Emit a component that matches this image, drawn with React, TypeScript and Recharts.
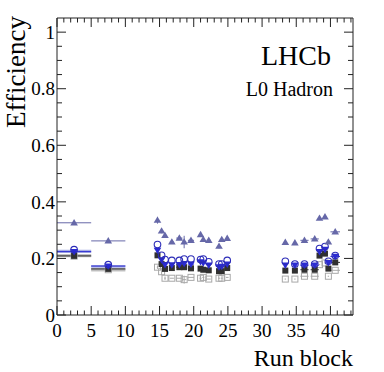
import { ComposedChart, Scatter, XAxis, YAxis, ErrorBar, ReferenceArea, Customized } from 'recharts'

// run blocks: first two are wide bins, the rest are single blocks
const runX = [2.5, 7.5, 14.7, 15.3, 15.8, 16.8, 17.9, 18.6, 19.6, 21.0, 21.4, 22.2, 23.7, 24.1, 24.9, 33.4, 34.8, 36.2, 37.7, 38.4, 39.2, 39.7, 40.7]
const runHalfWidth = [2.5, 2.5, 0.1, 0.1, 0.1, 0.3, 0.45, 0.3, 0.45, 0.15, 0.15, 0.3, 0.15, 0.15, 0.2, 0.1, 0.1, 0.6, 0.6, 0.1, 0.1, 0.1, 0.7]

const triUp = [0.326, 0.262, 0.335, 0.297, 0.281, 0.258, 0.272, 0.258, 0.264, 0.284, 0.267, 0.264, 0.243, 0.267, 0.271, 0.257, 0.255, 0.264, 0.269, 0.342, 0.347, 0.258, 0.294]
const triUpErr = [0, 0, 0.012, 0.008, 0.006, 0, 0, 0.022, 0, 0.008, 0.006, 0, 0.008, 0, 0, 0, 0, 0, 0, 0, 0, 0, 0]
const openCircle = [0.231, 0.178, 0.249, 0.211, 0.196, 0.193, 0.193, 0.198, 0.198, 0.196, 0.198, 0.188, 0.18, 0.18, 0.193, 0.19, 0.18, 0.18, 0.18, 0.235, 0.242, 0.19, 0.21]
const triDown = [0.224, 0.173, 0.229, 0.195, 0.178, 0.177, 0.178, 0.182, 0.18, 0.188, 0.184, 0.176, 0.17, 0.172, 0.18, 0.176, 0.176, 0.176, 0.176, 0.224, 0.232, 0.185, 0.207]
const fullSquare = [0.209, 0.163, 0.211, 0.18, 0.163, 0.166, 0.169, 0.169, 0.165, 0.164, 0.16, 0.158, 0.155, 0.155, 0.166, 0.157, 0.157, 0.16, 0.16, 0.21, 0.217, 0.164, 0.186]
const openSquare = [0.208, 0.16, 0.169, 0.153, 0.13, 0.13, 0.13, 0.125, 0.133, 0.13, 0.133, 0.127, 0.13, 0.13, 0.133, 0.127, 0.127, 0.137, 0.137, 0.178, 0.184, 0.137, 0.158]
const openSquareErr = [0, 0, 0.006, 0.012, 0.006, 0, 0, 0.014, 0, 0.008, 0, 0, 0, 0, 0, 0, 0, 0, 0, 0, 0, 0, 0]

// uncertainty bands on the two wide bins
const bandLo = [0, 5]
const bandHi = [5, 10]
const blueBand = [[0.219, 0.231], [0.167, 0.177]]
const grayBand = [[0.204, 0.216], [0.154, 0.166]]

const xTicks = Array.from({ length: 44 }, (_, i) => i)
const yTicks = [0, 0.05, 0.1, 0.15, 0.2, 0.25, 0.3, 0.35, 0.4, 0.45, 0.5, 0.55, 0.6, 0.65, 0.7, 0.75, 0.8, 0.85, 0.9, 0.95, 1]

const FONT = '"Liberation Serif", "DejaVu Serif", serif'
const AXIS = '#222'

const build = (ys: number[], eys?: number[]) =>
  runX.map((x, i) => ({ x, y: ys[i], ex: runHalfWidth[i], ey: eys ? eys[i] : 0 }))

const isMajorY = (v: number) => Math.abs(v * 5 - Math.round(v * 5)) < 1e-6
const fmtY = (v: number) => (v === 0 ? '0' : v === 1 ? '1' : v.toFixed(1))

const LeftTick = ({ x, y, payload }: any) => {
  const major = isMajorY(payload.value)
  return (
    <g>
      <line x1={x} x2={x + (major ? 9 : 5)} y1={y} y2={y} stroke={AXIS} />
      {major && (
        <text x={x - 2} y={y} dy="0.35em" textAnchor="end" fill="#000" style={{ fontFamily: FONT, fontSize: 19 }}>
          {fmtY(payload.value)}
        </text>
      )}
    </g>
  )
}

const RightTick = ({ x, y, payload }: any) => {
  const major = isMajorY(payload.value)
  return <line x1={x} x2={x - (major ? 9 : 5)} y1={y} y2={y} stroke={AXIS} />
}

const BottomTick = ({ x, y, payload }: any) => {
  const major = payload.value % 5 === 0
  return (
    <g>
      <line x1={x} x2={x} y1={y} y2={y - (major ? 9 : 4.5)} stroke={AXIS} />
      {major && (
        <text x={x} y={y + 21.5} textAnchor="middle" fill="#000" style={{ fontFamily: FONT, fontSize: 19 }}>
          {payload.value}
        </text>
      )}
    </g>
  )
}

const TopTick = ({ x, y, payload }: any) => {
  const major = payload.value % 5 === 0
  return <line x1={x} x2={x} y1={y} y2={y + (major ? 9 : 4.5)} stroke={AXIS} />
}

const triUpShape = (color: string) => (p: any) => (
  <polygon points={`${p.cx},${p.cy - 3.8} ${p.cx - 3.8},${p.cy + 2.6} ${p.cx + 3.8},${p.cy + 2.6}`} fill={color} />
)
const triDownShape = (color: string) => (p: any) => (
  <polygon points={`${p.cx},${p.cy + 3.8} ${p.cx - 3.8},${p.cy - 2.6} ${p.cx + 3.8},${p.cy - 2.6}`} fill={color} />
)
const circleShape = (color: string) => (p: any) => (
  <circle cx={p.cx} cy={p.cy} r={3.3} fill="none" stroke={color} strokeWidth={1.1} />
)
const squareShape = (color: string, filled: boolean) => (p: any) => (
  <rect
    x={p.cx - 3}
    y={p.cy - 3}
    width={6}
    height={6}
    fill={filled ? color : 'none'}
    stroke={color}
    strokeWidth={filled ? 0 : 1}
  />
)

const Texts = () => (
  <g fill="#000" style={{ fontFamily: FONT }}>
    <text x={331} y={65} textAnchor="end" fontSize={28}>LHCb</text>
    <text x={333} y={96} textAnchor="end" fontSize={20}>L0 Hadron</text>
    <text x={353} y={366} textAnchor="end" fontSize={24}>Run block</text>
    <text transform="translate(25,16) rotate(-90)" textAnchor="end" fontSize={27}>Efficiency</text>
  </g>
)

const C_TRI = '#6668a8'
const C_BLUE = '#2a2ad2'
const C_CIRC = '#2c2cb8'
const C_BLACK = '#303030'
const C_GRAY = '#a8a8a8'

export default function App() {
  return (
    <div style={{ position: 'absolute', left: 0, top: 0, width: 384, height: 372, background: '#fff' }}>
      <ComposedChart width={384} height={372} margin={{ top: 0, right: 0, bottom: 0, left: 0 }}>
        <XAxis
          xAxisId="b"
          type="number"
          dataKey="x"
          domain={[0, 43.3]}
          ticks={xTicks}
          interval={0}
          allowDataOverflow
          height={57}
          tickSize={0}
          tickMargin={0}
          tickLine={false}
          axisLine={{ stroke: AXIS }}
          tick={<BottomTick />}
        />
        <XAxis
          xAxisId="t"
          orientation="top"
          type="number"
          dataKey="x"
          domain={[0, 43.3]}
          ticks={xTicks}
          interval={0}
          allowDataOverflow
          height={18}
          tickSize={0}
          tickMargin={0}
          tickLine={false}
          axisLine={{ stroke: AXIS }}
          tick={<TopTick />}
        />
        <YAxis
          yAxisId="l"
          type="number"
          dataKey="y"
          domain={[0, 1.05]}
          ticks={yTicks}
          interval={0}
          allowDataOverflow
          width={57}
          tickSize={0}
          tickMargin={0}
          tickLine={false}
          axisLine={{ stroke: AXIS }}
          tick={<LeftTick />}
        />
        <YAxis
          yAxisId="r"
          orientation="right"
          type="number"
          dataKey="y"
          domain={[0, 1.05]}
          ticks={yTicks}
          interval={0}
          allowDataOverflow
          width={31}
          tickSize={0}
          tickMargin={0}
          tickLine={false}
          axisLine={{ stroke: AXIS }}
          tick={<RightTick />}
        />

        {bandLo.map((lo, i) => (
          <ReferenceArea
            key={`bb${i}`}
            xAxisId="b"
            yAxisId="l"
            x1={lo}
            x2={bandHi[i]}
            y1={blueBand[i][0]}
            y2={blueBand[i][1]}
            fill="#a9aee4"
            fillOpacity={1}
            stroke="none"
          />
        ))}
        {bandLo.map((lo, i) => (
          <ReferenceArea
            key={`gb${i}`}
            xAxisId="b"
            yAxisId="l"
            x1={lo}
            x2={bandHi[i]}
            y1={grayBand[i][0]}
            y2={grayBand[i][1]}
            fill="#c4c4c4"
            fillOpacity={1}
            stroke="none"
          />
        ))}

        <Scatter xAxisId="b" yAxisId="l" dataKey="y" data={build(openSquare, openSquareErr)} shape={squareShape(C_GRAY, false)} isAnimationActive={false}>
          <ErrorBar dataKey="ex" direction="x" width={0} stroke={C_GRAY} strokeWidth={1} />
          <ErrorBar dataKey="ey" direction="y" width={0} stroke={C_GRAY} strokeWidth={1} />
        </Scatter>
        <Scatter xAxisId="b" yAxisId="l" dataKey="y" data={build(fullSquare)} shape={squareShape(C_BLACK, true)} isAnimationActive={false}>
          <ErrorBar dataKey="ex" direction="x" width={0} stroke={C_BLACK} strokeWidth={1} />
        </Scatter>
        <Scatter xAxisId="b" yAxisId="l" dataKey="y" data={build(triDown)} shape={triDownShape(C_BLUE)} isAnimationActive={false}>
          <ErrorBar dataKey="ex" direction="x" width={0} stroke={C_BLUE} strokeWidth={1} />
        </Scatter>
        <Scatter xAxisId="b" yAxisId="l" dataKey="y" data={build(openCircle)} shape={circleShape(C_CIRC)} isAnimationActive={false} />
        <Scatter xAxisId="b" yAxisId="l" dataKey="y" data={build(triUp, triUpErr)} shape={triUpShape(C_TRI)} isAnimationActive={false}>
          <ErrorBar dataKey="ex" direction="x" width={0} stroke={C_TRI} strokeWidth={1} />
          <ErrorBar dataKey="ey" direction="y" width={0} stroke={C_TRI} strokeWidth={1} />
        </Scatter>

        <Customized component={Texts} />
      </ComposedChart>
    </div>
  )
}
